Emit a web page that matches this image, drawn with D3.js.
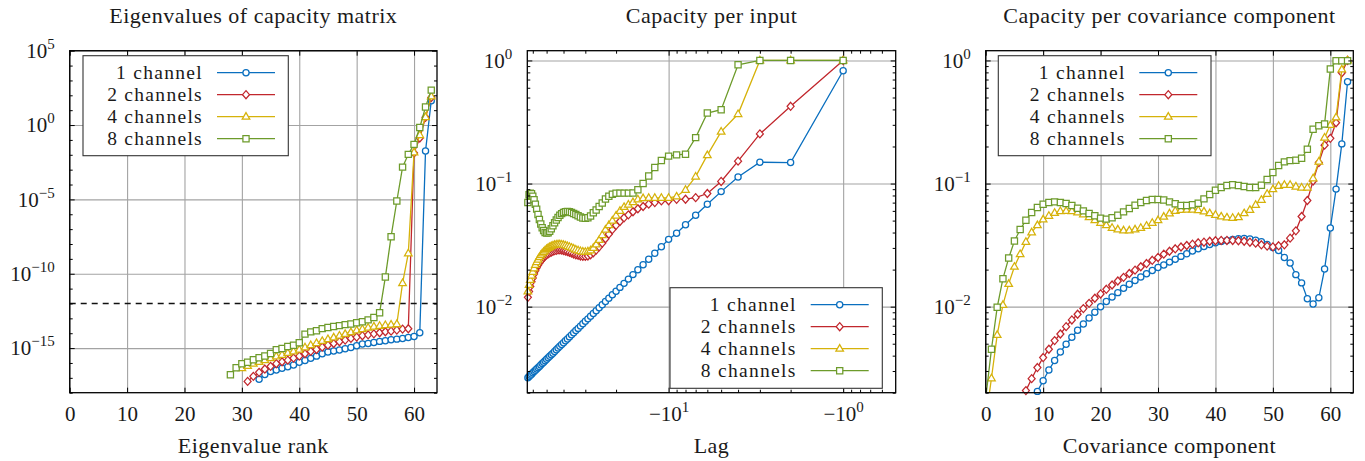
<!DOCTYPE html>
<html><head><meta charset="utf-8">
<script src="https://cdn.jsdelivr.net/npm/d3@7"></script>
<style>
body{margin:0;background:#fff}
svg text{font-family:"Liberation Serif","Times New Roman",serif !important;fill:#1a1a1a}
</style>
</head><body>
<svg id="chart" width="1365" height="461" style="font-family:'Liberation Serif',serif"></svg>
<script>
// ---------------- data ----------------
const seriesNames = ["1 channel", "2 channels", "4 channels", "8 channels"];
const seriesColors = ["#0a6fbf", "#c1272d", "#d6b20a", "#6d9b2b"];
const seriesMarkers = ["circle", "diamond", "triangle", "square"];

// Panel 1: eigenvalues of capacity matrix (first plotted rank per series, then values)
const eigFirstRank = [33, 31, 30, 28];
const eig1 = [7.9e-18, 1.7e-17, 2.69e-17, 3.3e-17, 4.37e-17, 5.6e-17, 7.2e-17, 1.1e-16, 1.48e-16, 2.04e-16, 2.88e-16, 4.17e-16, 5.4e-16, 6.3e-16, 7.4e-16, 9.1e-16, 1.1e-15, 1.45e-15, 1.86e-15, 2.04e-15, 2.4e-15, 2.82e-15, 3.1e-15, 3.6e-15, 4.0e-15, 4.47e-15, 5.2e-15, 6.0e-15, 1.07e-14, 1.78e-2, 43.7];
const eig2 = [5.75e-18, 1.26e-17, 2.34e-17, 3.9e-17, 5.9e-17, 8.9e-17, 1.2e-16, 1.55e-16, 2.14e-16, 2.88e-16, 4.17e-16, 6.0e-16, 8.1e-16, 1.17e-15, 1.58e-15, 2.04e-15, 2.69e-15, 3.47e-15, 4.47e-15, 5.5e-15, 6.8e-15, 7.8e-15, 9.1e-15, 1.07e-14, 1.26e-14, 1.38e-14, 1.62e-14, 1.9e-14, 2.0e-14, 1.32e-2, 0.135, 3.3, 72];
const eig4 = [4.47e-17, 6.3e-17, 8.9e-17, 1.2e-16, 1.58e-16, 2.09e-16, 2.82e-16, 3.55e-16, 4.68e-16, 6.0e-16, 7.9e-16, 1.12e-15, 1.58e-15, 2.19e-15, 3.0e-15, 4.0e-15, 5.2e-15, 6.9e-15, 8.9e-15, 1.17e-14, 1.58e-14, 1.9e-14, 2.4e-14, 2.82e-14, 3.16e-14, 3.55e-14, 3.8e-14, 4.17e-14, 2.34e-11, 2.34e-9, 1.45e-2, 0.214, 3.47, 85];
const eig8 = [1.62e-17, 4.79e-17, 8.9e-17, 1.12e-16, 1.66e-16, 2.24e-16, 2.95e-16, 4.27e-16, 7.9e-16, 9.5e-16, 1.26e-15, 1.55e-15, 2.29e-15, 8.7e-15, 1.23e-14, 1.48e-14, 2.04e-14, 2.4e-14, 2.82e-14, 3.24e-14, 3.8e-14, 4.17e-14, 5.13e-14, 5.9e-14, 7.9e-14, 1.15e-13, 2.4e-13, 6.0e-11, 3.1e-8, 7.8e-6, 1.48e-3, 1.07e-2, 5.0e-2, 0.69, 16.2, 224];
const eigThreshold = 1e-12;

// Panel 2: capacity per input, lags -64 ... -1
const lags = d3.range(-64, 0);
const lag1 = [0.00265, 0.00271, 0.00277, 0.00283, 0.0029, 0.00297, 0.00304, 0.00311, 0.00319, 0.00327, 0.00336, 0.00345, 0.00354, 0.00363, 0.00374, 0.00384, 0.00396, 0.00407, 0.00419, 0.00433, 0.00446, 0.00461, 0.00476, 0.00492, 0.00509, 0.00528, 0.00547, 0.00568, 0.0059, 0.00613, 0.00639, 0.00666, 0.00695, 0.00726, 0.0076, 0.00796, 0.00836, 0.0088, 0.00927, 0.00979, 0.01036, 0.011, 0.01169, 0.01248, 0.01335, 0.01434, 0.01546, 0.01674, 0.01821, 0.01992, 0.02192, 0.02429, 0.02716, 0.03065, 0.0352, 0.0395, 0.0462, 0.0552, 0.068, 0.086, 0.113, 0.149, 0.148, 0.824];
const lag2 = [0.0119, 0.0133, 0.0146, 0.0159, 0.0171, 0.0184, 0.0196, 0.0207, 0.0217, 0.0226, 0.0235, 0.0243, 0.0251, 0.0258, 0.0264, 0.0269, 0.0274, 0.0278, 0.0282, 0.0285, 0.0287, 0.0289, 0.0289, 0.0288, 0.0286, 0.0283, 0.028, 0.0276, 0.0272, 0.0268, 0.0264, 0.0261, 0.0258, 0.0256, 0.0256, 0.0258, 0.0264, 0.0274, 0.0288, 0.0306, 0.0328, 0.0356, 0.0388, 0.0423, 0.0458, 0.0492, 0.0527, 0.0557, 0.059, 0.0624, 0.0651, 0.068, 0.0701, 0.0723, 0.0725, 0.0745, 0.0746, 0.0768, 0.083, 0.104, 0.152, 0.253, 0.424, 1.0];
const lag4 = [0.0133, 0.015, 0.0165, 0.0179, 0.0192, 0.0205, 0.0218, 0.023, 0.0241, 0.0252, 0.0262, 0.0271, 0.0279, 0.0287, 0.0294, 0.03, 0.0305, 0.031, 0.0314, 0.0317, 0.0319, 0.032, 0.032, 0.0319, 0.0317, 0.0314, 0.031, 0.0306, 0.0301, 0.0296, 0.0291, 0.0287, 0.0283, 0.028, 0.0279, 0.0281, 0.0287, 0.03, 0.032, 0.0348, 0.0382, 0.0422, 0.046, 0.05, 0.055, 0.06, 0.0645, 0.0675, 0.0706, 0.0745, 0.076, 0.0765, 0.0765, 0.0765, 0.0765, 0.0785, 0.0889, 0.114, 0.17, 0.264, 0.367, 1.0, 1.0, 1.0];
const lag8 = [0.0702, 0.081, 0.0836, 0.0828, 0.079, 0.074, 0.068, 0.062, 0.056, 0.051, 0.047, 0.0438, 0.0415, 0.04, 0.0396, 0.0398, 0.041, 0.043, 0.0455, 0.048, 0.0505, 0.053, 0.0553, 0.057, 0.0582, 0.059, 0.0593, 0.059, 0.0582, 0.0572, 0.056, 0.0548, 0.0535, 0.0525, 0.0522, 0.0528, 0.0545, 0.058, 0.061, 0.065, 0.0695, 0.075, 0.079, 0.082, 0.0835, 0.0836, 0.0836, 0.0836, 0.0838, 0.089, 0.1, 0.115, 0.135, 0.154, 0.167, 0.171, 0.173, 0.236, 0.374, 0.398, 0.922, 1.0, 1.0, 1.0];

// Panel 3: capacity per covariance component 0 ... 63
const components = d3.range(0, 64);
const comp1 = [null, null, null, null, null, null, null, null, 0.00158, 0.00205, 0.0025, 0.00306, 0.00365, 0.00429, 0.00495, 0.00564, 0.00643, 0.00723, 0.0081, 0.009, 0.01, 0.011, 0.012, 0.013, 0.0141, 0.0152, 0.0163, 0.0174, 0.0185, 0.0197, 0.0208, 0.0218, 0.023, 0.0243, 0.0256, 0.0269, 0.0283, 0.0295, 0.0308, 0.032, 0.033, 0.0339, 0.0345, 0.0352, 0.0356, 0.0358, 0.0355, 0.0347, 0.0337, 0.032, 0.0302, 0.0286, 0.0251, 0.0226, 0.0182, 0.0156, 0.0116, 0.0105, 0.0118, 0.0202, 0.0435, 0.0901, 0.21, 0.671];
const comp2 = [null, null, null, null, null, null, 0.00166, 0.00208, 0.0026, 0.0032, 0.00386, 0.00451, 0.0053, 0.006, 0.00688, 0.0078, 0.00867, 0.00964, 0.01064, 0.0117, 0.01268, 0.01383, 0.015, 0.01616, 0.0173, 0.0186, 0.0198, 0.0211, 0.0224, 0.0238, 0.0251, 0.0267, 0.0282, 0.0295, 0.0305, 0.0314, 0.0322, 0.033, 0.0334, 0.034, 0.0343, 0.0345, 0.0345, 0.0345, 0.0343, 0.034, 0.0334, 0.0328, 0.0318, 0.031, 0.0306, 0.0312, 0.0318, 0.036, 0.0413, 0.054, 0.0728, 0.105, 0.148, 0.205, 0.233, 0.312, 0.794, 1.0];
const comp4 = [0.0012, 0.00262, 0.00589, 0.01033, 0.0153, 0.0211, 0.0267, 0.0336, 0.0401, 0.0459, 0.0511, 0.0547, 0.0578, 0.0597, 0.0599, 0.0597, 0.0582, 0.0561, 0.0533, 0.0504, 0.048, 0.0459, 0.0437, 0.0424, 0.0416, 0.0416, 0.0424, 0.0437, 0.0454, 0.048, 0.0504, 0.0538, 0.0572, 0.06, 0.0611, 0.0613, 0.0613, 0.0608, 0.0593, 0.0574, 0.0557, 0.054, 0.053, 0.0527, 0.0533, 0.0574, 0.0611, 0.0671, 0.0738, 0.0824, 0.0899, 0.0957, 0.0976, 0.0976, 0.0946, 0.0928, 0.0928, 0.1104, 0.151, 0.236, 0.299, 0.345, 0.845, 1.0];
const comp8 = [0.0018, 0.00451, 0.00988, 0.01687, 0.0248, 0.0341, 0.0423, 0.0504, 0.0582, 0.0639, 0.0679, 0.0701, 0.071, 0.0701, 0.0689, 0.0664, 0.0631, 0.06, 0.0571, 0.0547, 0.0524, 0.0514, 0.0527, 0.0553, 0.0589, 0.0626, 0.0667, 0.0701, 0.0728, 0.0741, 0.0741, 0.0735, 0.071, 0.0685, 0.0663, 0.0663, 0.0672, 0.0693, 0.0751, 0.0814, 0.0883, 0.0928, 0.0964, 0.0976, 0.0964, 0.0946, 0.0928, 0.0928, 0.0969, 0.1077, 0.1228, 0.14, 0.15, 0.1535, 0.1546, 0.1604, 0.1898, 0.276, 0.295, 0.305, 0.851, 0.995, 0.995, 0.995];

// tick values
const rankTicks = [0, 10, 20, 30, 40, 50, 60];
const eigTicks = [1e-15, 1e-10, 1e-5, 1e0, 1e5];
const lagTicks = [10, 1];               // magnitudes of -10^1, -10^0
const capTicks = [1e-2, 1e-1, 1e0];

// ---------------- drawing ----------------
const FONT = "'Liberation Serif', 'Times New Roman', serif";
const svg = d3.select("#chart");

function symbolPath(t) {
  switch (t) {
    case "circle": return "M3.1,0A3.1,3.1 0 1,1 -3.1,0A3.1,3.1 0 1,1 3.1,0Z";
    case "diamond": return "M0,-4L3.5,0L0,4L-3.5,0Z";
    case "triangle": return "M0,-4.1L3.8,2.5L-3.8,2.5Z";
    default: return "M-3.1,-3.1H3.1V3.1H-3.1Z";
  }
}

function supText(sel, base, exp) {
  sel.text(null);
  sel.append("tspan").text(base);
  sel.append("tspan").attr("dy", -9).attr("font-size", 15).text(exp);
}
const expStr = d => { const e = Math.round(Math.log10(d)); return (e < 0 ? "\u2212" : "") + Math.abs(e); };

function minorLog(lo, hi) {
  const out = [];
  for (let e = Math.floor(Math.log10(lo)); e <= Math.ceil(Math.log10(hi)); e++)
    for (let k = 2; k <= 9; k++) { const v = k * Math.pow(10, e); if (v >= lo && v <= hi) out.push(v); }
  return out;
}

function addText(parent, x, y, str, size, anchor, spacing) {
  return parent.append("text").attr("x", x).attr("y", y).attr("text-anchor", anchor)
    .attr("font-family", FONT).attr("font-size", size).attr("letter-spacing", spacing).text(str);
}

function drawPanel(P) {
  const { l, t, r, b } = P.box;
  const g = svg.append("g");
  const cid = "clip" + P.key;
  svg.append("clipPath").attr("id", cid).append("rect")
    .attr("x", l).attr("y", t).attr("width", r - l).attr("height", b - t);

  // grid
  const grid = g.append("g");
  grid.append("g").attr("transform", `translate(0,${b})`)
    .call(d3.axisBottom(P.x).tickValues(P.xGrid).tickSize(-(b - t)).tickFormat(""));
  grid.append("g").attr("transform", `translate(${l},0)`)
    .call(d3.axisLeft(P.y).tickValues(P.yGrid).tickSize(-(r - l)).tickFormat(""));
  grid.selectAll(".domain").remove();
  grid.selectAll("line").attr("stroke", "#a3a3a3").attr("stroke-width", 1.1);

  if (P.extra) P.extra(g, cid);

  // series
  P.series.forEach((s, i) => {
    const pts = s.xs.map((xv, j) => ({ x: xv, v: s.vs[j] })).filter(d => d.v != null);
    const px = d => P.x(P.xf(d.x));
    g.append("path").datum(pts).attr("clip-path", `url(#${cid})`)
      .attr("d", d3.line().x(px).y(d => P.y(d.v)))
      .attr("fill", "none").attr("stroke", seriesColors[i]).attr("stroke-width", 1.3);
    const [lo, hi] = P.y.domain();
    g.append("g").selectAll("path").data(pts.filter(d => d.v >= lo * 0.98 && d.v <= hi)).join("path")
      .attr("d", symbolPath(seriesMarkers[i]))
      .attr("transform", d => `translate(${px(d)},${P.y(d.v)})`)
      .attr("fill", "#fff").attr("stroke", seriesColors[i]).attr("stroke-width", 1.25);
  });

  // frame
  g.append("rect").attr("x", l).attr("y", t).attr("width", r - l).attr("height", b - t)
    .attr("fill", "none").attr("stroke", "#000").attr("stroke-width", 1.3);

  // ticks
  const tg = g.append("g");
  const tick = (axis, tr, vals, size) => tg.append("g").attr("transform", tr)
    .call(axis.tickValues(vals).tickSizeInner(-size).tickSizeOuter(0).tickFormat(""));
  tick(d3.axisTop(P.x), `translate(0,${t})`, P.xMajor, 5);
  tick(d3.axisRight(P.y), `translate(${r},0)`, P.yMajor, 5);
  if (P.xMinor) { tick(d3.axisTop(P.x), `translate(0,${t})`, P.xMinor, 3); tick(d3.axisBottom(P.x), `translate(0,${b})`, P.xMinor, 3); }
  if (P.yMinor) { tick(d3.axisRight(P.y), `translate(${r},0)`, P.yMinor, 3); tick(d3.axisLeft(P.y), `translate(${l},0)`, P.yMinor, 3); }
  tg.selectAll(".domain").remove();
  tg.selectAll("line").attr("stroke", "#000").attr("stroke-width", 1);

  // labelled axes
  const xa = g.append("g").attr("transform", `translate(0,${b})`)
    .call(d3.axisBottom(P.x).tickValues(P.xMajor).tickSizeInner(-5).tickSizeOuter(0).tickPadding(13));
  const ya = g.append("g").attr("transform", `translate(${l},0)`)
    .call(d3.axisLeft(P.y).tickValues(P.yMajor).tickSizeInner(-5).tickSizeOuter(0).tickPadding(15));
  [xa, ya].forEach(a => {
    a.attr("font-family", FONT);
    a.select(".domain").remove();
    a.selectAll("line").attr("stroke", "#000").attr("stroke-width", 1);
    a.selectAll("text").attr("font-size", 21).attr("font-family", FONT).attr("fill", "#1a1a1a");
  });
  xa.selectAll("text").each(function (d) { P.xLabel(d3.select(this), d); });
  ya.selectAll("text").each(function (d) { supText(d3.select(this), "10", expStr(d)); });

  // title + axis label
  const cx = (l + r) / 2;
  addText(svg, cx, 23, P.title, 22, "middle", 0.5);
  addText(svg, cx, 453, P.xTitle, 22, "middle", 0.5);

  // legend
  const L = P.legend;
  const lg = svg.append("g");
  lg.append("rect").attr("x", L.x).attr("y", L.y).attr("width", L.w).attr("height", L.h)
    .attr("fill", "#fff").attr("stroke", "#333").attr("stroke-width", 1.1);
  seriesNames.forEach((nm, i) => {
    const cy = L.y + 17 + 22 * i;
    addText(lg, L.tx, cy + 6.5, nm, 19.5, "end", 1.3);
    lg.append("line").attr("x1", L.lx0).attr("x2", L.lx1).attr("y1", cy).attr("y2", cy)
      .attr("stroke", seriesColors[i]).attr("stroke-width", 1.3);
    lg.append("path").attr("d", symbolPath(seriesMarkers[i]))
      .attr("transform", `translate(${(L.lx0 + L.lx1) / 2},${cy})`)
      .attr("fill", "#fff").attr("stroke", seriesColors[i]).attr("stroke-width", 1.25);
  });
}

// Panel 1
const p1box = { l: 69.7, t: 50.7, r: 437, b: 392.7 };
const x1 = d3.scaleLinear([0, 64], [p1box.l, p1box.r]);
const y1 = d3.scaleLog([1e-18, 1e5], [p1box.b, p1box.t]);
const eigSeries = [eig1, eig2, eig4, eig8].map((vs, i) => ({ xs: vs.map((_, j) => eigFirstRank[i] + j), vs }));
const eigMinor = d3.range(-18, 6).map(e => Math.pow(10, e)).filter(v => !eigTicks.some(m => Math.abs(Math.log10(m) - Math.log10(v)) < 1e-6));
drawPanel({
  key: 1, box: p1box, x: x1, y: y1, xf: d => d,
  xMajor: rankTicks, xGrid: rankTicks, yMajor: eigTicks, yGrid: eigTicks, yMinor: eigMinor,
  xLabel: (s, d) => s.text(d),
  title: "Eigenvalues of capacity matrix", xTitle: "Eigenvalue rank",
  series: eigSeries,
  extra: (g, cid) => {
    g.append("line").attr("clip-path", `url(#${cid})`)
      .attr("x1", p1box.l).attr("x2", p1box.r).attr("y1", y1(eigThreshold)).attr("y2", y1(eigThreshold))
      .attr("stroke", "#111").attr("stroke-width", 1.5).attr("stroke-dasharray", "6,5");
  },
  legend: { x: 83, y: 55.7, w: 205.3, h: 100, tx: 203, lx0: 217, lx1: 275 }
});

// Panel 2
const p2box = { l: 527.3, t: 50.7, r: 895.7, b: 392.7 };
const x2 = d3.scaleLog([64.5, 0.5], [p2box.l, p2box.r]);
const y2 = d3.scaleLog([0.002, 1.2], [p2box.b, p2box.t]);
drawPanel({
  key: 2, box: p2box, x: x2, y: y2, xf: d => -d,
  xMajor: lagTicks, xGrid: lagTicks, xMinor: [60, 50, 40, 30, 20, 9, 8, 7, 6, 5, 4, 3, 2, 0.9, 0.8, 0.7, 0.6],
  yMajor: capTicks, yGrid: capTicks, yMinor: minorLog(0.002, 1.2),
  xLabel: (s, d) => supText(s, "\u221210", expStr(d)),
  title: "Capacity per input", xTitle: "Lag",
  series: [lag1, lag2, lag4, lag8].map(vs => ({ xs: lags, vs })),
  legend: { x: 670, y: 287.7, w: 212.3, h: 100.6, tx: 796.7, lx0: 810.7, lx1: 868.7 }
});

// Panel 3
const p3box = { l: 985.7, t: 50.7, r: 1353.3, b: 392.7 };
const x3 = d3.scaleLinear([0, 64], [p3box.l, p3box.r]);
const y3 = d3.scaleLog([0.002, 1.2], [p3box.b, p3box.t]);
drawPanel({
  key: 3, box: p3box, x: x3, y: y3, xf: d => d,
  xMajor: rankTicks, xGrid: rankTicks, yMajor: capTicks, yGrid: capTicks, yMinor: minorLog(0.002, 1.2),
  xLabel: (s, d) => s.text(d),
  title: "Capacity per covariance component", xTitle: "Covariance component",
  series: [comp1, comp2, comp4, comp8].map(vs => ({ xs: components, vs })),
  legend: { x: 998.3, y: 55.7, w: 212.7, h: 100, tx: 1125.7, lx0: 1139.3, lx1: 1197.3 }
});
</script>
</body></html>
